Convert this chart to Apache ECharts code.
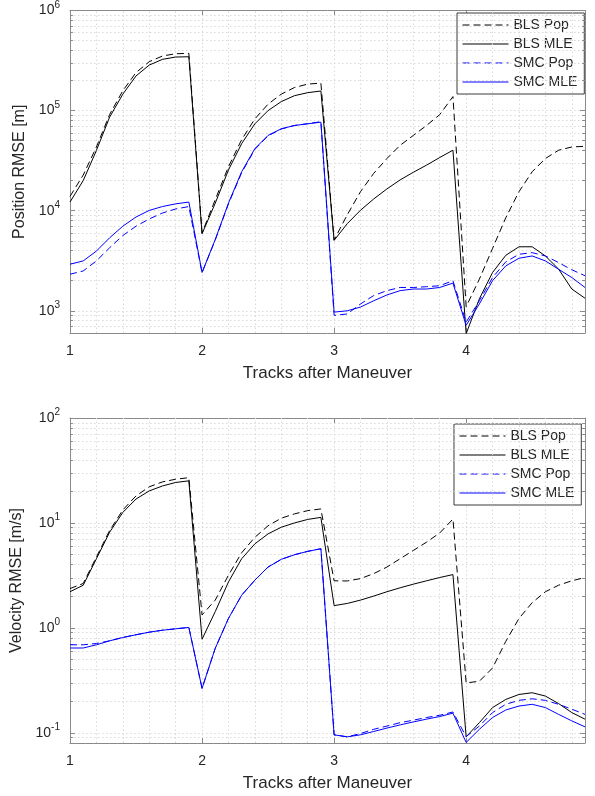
<!DOCTYPE html>
<html><head><meta charset="utf-8">
<script src="https://cdn.jsdelivr.net/npm/echarts@6/dist/echarts.min.js"></script>
<style>html,body{margin:0;padding:0;background:#fff}#c{width:595px;height:796px}</style>
</head><body><div id="c"></div>
<script>
// ---- data ----
const xValues = [1.0,1.1,1.2,1.3,1.4,1.5,1.6,1.7,1.8,1.9, 2.0,2.1,2.2,2.3,2.4,2.5,2.6,2.7,2.8,2.9, 3.0,3.1,3.2,3.3,3.4,3.5,3.6,3.7,3.8,3.9, 4.0,4.1,4.2,4.3,4.4,4.5,4.6,4.7,4.8,4.9];
const seriesNames = ['BLS Pop','BLS MLE','SMC Pop','SMC MLE'];
const xTickLabels = ['1','2','3','4'];

const posBlsPop = [13900,22700,43300,91300,158000,240000,308000,351000,370000,373000, 6000,12900,27500,51300,82700,116000,146000,170000,184000,188000, 5100,9120,15500,23600,33200,45000,56500,71000,91200,138000, 1100,2070,4200,8500,15500,24500,33200,40200,43300,44000];
const posBlsMle = [12200,20000,40000,86000,146000,222000,285000,325000,343000,345000, 5880,11900,25500,46800,73800,100000,123000,141000,151000,157000, 5050,7430,10100,13100,16500,20300,24200,28500,34000,40200, 590,1315,2415,3580,4360,4360,3530,2610,1650,1335];
const posSmcPop = [2320,2500,3150,4260,5650,7000,8270,9480,10400,11000, 2400,5100,11700,24000,41000,56000,65500,71000,74000,77500, 900,930,1170,1420,1590,1710,1710,1740,1780,2000, 770,1260,2150,3080,3670,3810,3530,3030,2570,2240];
const posSmcMle = [2920,3150,3950,5360,7000,8650,10070,11000,11700,12200, 2415,5160,11900,24500,41700,56500,65800,71000,73800,76600, 970,1000,1090,1260,1440,1590,1650,1650,1710,1890, 716,1170,2000,2810,3350,3530,3150,2600,2150,1710];

const velBlsPop = [2.37,2.65,4.73,8.46,13.3,18.1,22.1,24.6,26.1,27.0, 1.33,1.84,3.18,5.2,7.3,9.4,11.1,12.2,13.1,13.6, 2.81,2.8,2.95,3.29,3.8,4.56,5.47,6.56,8.03,10.9, 0.299,0.31,0.415,0.743,1.23,1.74,2.21,2.55,2.81,3.02];
const velBlsMle = [2.21,2.55,4.56,8.16,12.6,16.9,20.2,22.5,24.3,25.2, 0.78,1.43,2.74,4.56,6.32,7.87,9.1,10.0,10.8,11.3, 1.63,1.71,1.84,2.01,2.21,2.41,2.61,2.81,3.02,3.22, 0.0916,0.125,0.174,0.208,0.232,0.241,0.224,0.19,0.156,0.135];
const velSmcPop = [0.69,0.69,0.71,0.753,0.81,0.86,0.91,0.95,0.98,1.01, 0.265,0.64,1.23,2.05,2.85,3.8,4.5,4.98,5.36,5.68, 0.0957,0.0916,0.0985,0.108,0.116,0.125,0.132,0.14,0.147,0.158, 0.092,0.116,0.156,0.187,0.204,0.211,0.204,0.187,0.168,0.150];
const velSmcMle = [0.643,0.643,0.69,0.753,0.81,0.86,0.91,0.95,0.98,1.01, 0.265,0.64,1.23,2.05,2.85,3.8,4.5,4.98,5.36,5.68, 0.0957,0.0916,0.0957,0.103,0.111,0.119,0.127,0.135,0.143,0.154, 0.081,0.108,0.14,0.165,0.18,0.187,0.174,0.15,0.13,0.114];

const posRange = [600, 1e6];
const velRange = [0.08, 100];
const xRange = [1, 4.9];
const minorX = [1.2,1.4,1.6,1.8,2.2,2.4,2.6,2.8,3.2,3.4,3.6,3.8,4.2,4.4,4.6,4.8];
const minorPos = [700,800,900,2e3,3e3,4e3,5e3,6e3,7e3,8e3,9e3,2e4,3e4,4e4,5e4,6e4,7e4,8e4,9e4,2e5,3e5,4e5,5e5,6e5,7e5,8e5,9e5];
const minorVel = [0.09,0.2,0.3,0.4,0.5,0.6,0.7,0.8,0.9,2,3,4,5,6,7,8,9,20,30,40,50,60,70,80,90];

// ---- styles ----
const FONT = "'Liberation Sans', Arial, Helvetica, sans-serif";
const TXT = '#262626';
const AX = '#8a8a8a';
const GRIDC = '#d9d9d9';
const GDASH = [1.5,2.5];
const DASH = [7,4];
const seriesStyle = [
  {color:'#000000', type:DASH},
  {color:'#000000', type:'solid'},
  {color:'#0000ff', type:DASH},
  {color:'#0000ff', type:'solid'}
];

function logLabel(v){
  const l = Math.log10(v), e = Math.round(l);
  if (Math.abs(l - e) > 1e-6) return '';
  return '{b|10}{s|' + e + '}';
}

function xAxes(g, withName){
  const base = {gridIndex:g, type:'value', min:xRange[0], max:xRange[1], interval:1,
    axisLine:{show:true, onZero:false, lineStyle:{color:AX, width:1}},
    axisTick:{show:true, inside:true, length:5, lineStyle:{color:AX}}};
  return [
    Object.assign({}, base, {position:'bottom',
      name: withName, nameLocation:'middle', nameGap:32,
      nameTextStyle:{fontSize:17, color:TXT, fontFamily:FONT},
      axisLabel:{margin:11, fontSize:14, color:TXT, fontFamily:FONT,
        formatter: v => { const s = String(Math.round(v)); return (Math.abs(v-Math.round(v))<1e-9 && xTickLabels.indexOf(s)>=0) ? s : ''; }},
      splitLine:{show:true, lineStyle:{color:GRIDC, type:GDASH, width:1}}}),
    Object.assign({}, base, {position:'top', axisLabel:{show:false}, splitLine:{show:false}})
  ];
}
function yAxes(g, range, name){
  const base = {gridIndex:g, type:'log', logBase:10, min:range[0], max:range[1],
    axisLine:{show:true, onZero:false, lineStyle:{color:AX, width:1}},
    axisTick:{show:true, inside:true, length:5, lineStyle:{color:AX}}};
  return [
    Object.assign({}, base, {position:'left', name:name, nameLocation:'middle', nameGap:39,
      nameTextStyle:{fontSize:16, color:TXT, fontFamily:FONT},
      axisLabel:{margin:10, formatter:logLabel,
        rich:{b:{fontSize:14, color:TXT, fontFamily:FONT}, s:{fontSize:10, color:TXT, fontFamily:FONT, padding:[0,0,11,0]}}},
      splitLine:{show:true, lineStyle:{color:GRIDC, type:GDASH, width:1}}}),
    Object.assign({}, base, {position:'right', axisLabel:{show:false}, splitLine:{show:false}})
  ];
}

function helper(xi, yi, minorY){
  const tl = 0.022;
  const lines = [];
  minorX.forEach(v => lines.push({xAxis:v}));
  minorY.forEach(v => lines.push({yAxis:v}));
  const ticks = [];
  minorY.forEach(v => {
    ticks.push([{coord:[xRange[0], v]}, {coord:[xRange[0]+tl, v]}]);
    ticks.push([{coord:[xRange[1]-tl, v]}, {coord:[xRange[1], v]}]);
  });
  return [
    {name:'_grid', type:'line', xAxisIndex:xi, yAxisIndex:yi, data:[], z:1, silent:true,
      markLine:{silent:true, animation:false, symbol:['none','none'], label:{show:false},
        lineStyle:{color:GRIDC, type:GDASH, width:1}, data:lines}},
    {name:'_ticks', type:'line', xAxisIndex:xi, yAxisIndex:yi, data:[], z:3, silent:true,
      markLine:{silent:true, animation:false, symbol:['none','none'], label:{show:false},
        lineStyle:{color:AX, type:'solid', width:1}, data:ticks}}
  ];
}

function lines(xi, yi, arrs){
  return arrs.map((arr, k) => ({
    name: seriesNames[k], type:'line', xAxisIndex:xi, yAxisIndex:yi,
    data: xValues.map((x, i) => [x, arr[i]]),
    symbol:'none', showSymbol:false, color: seriesStyle[k].color, z:5,
    lineStyle:{color: seriesStyle[k].color, width:1, type: seriesStyle[k].type}
  }));
}

function legend(left, top){
  return {data: seriesNames, orient:'vertical', left:left, top:top, itemWidth:46, itemHeight:14, itemGap:5,
    padding:[5,7,5,5], backgroundColor:'#ffffff', borderColor:'#3a3a3a', borderWidth:1, borderRadius:0,
    itemStyle:{opacity:0}, lineStyle:{opacity:1, width:1},
    selectedMode:false, textStyle:{fontSize:14, color:TXT, fontFamily:FONT}};
}

const chart = echarts.init(document.getElementById('c'), null, {renderer:'canvas'});
chart.setOption({
  animation:false,
  backgroundColor:'#ffffff',
  textStyle:{fontFamily:FONT},
  grid:[{left:70, top:7, width:515, height:326}, {left:70, top:418, width:515, height:325}],
  xAxis: [].concat(xAxes(0, 'Tracks after Maneuver'), xAxes(1, 'Tracks after Maneuver')),
  yAxis: [].concat(yAxes(0, posRange, 'Position RMSE [m]'), yAxes(1, velRange, 'Velocity RMSE [m/s]')),
  legend: [legend(457, 13), legend(454, 424)],
  series: [].concat(
    helper(0, 0, minorPos), lines(0, 0, [posBlsPop, posBlsMle, posSmcPop, posSmcMle]),
    helper(2, 2, minorVel), lines(2, 2, [velBlsPop, velBlsMle, velSmcPop, velSmcMle])
  )
});
</script></body></html>
